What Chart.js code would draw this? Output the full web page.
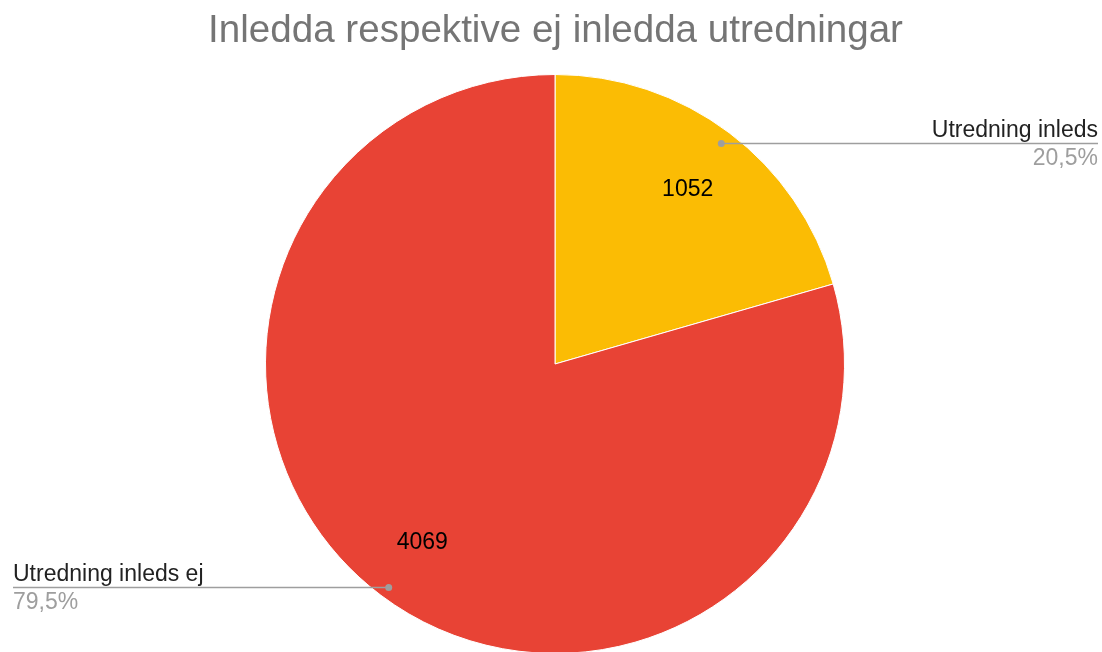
<!DOCTYPE html>
<html>
<head>
<meta charset="utf-8">
<script src="https://cdn.jsdelivr.net/npm/chart.js@4.4.1/dist/chart.umd.min.js"></script>
<style>
  html, body { margin: 0; padding: 0; background: #ffffff; overflow: hidden; }
  #wrap { width: 1102px; height: 700px; position: relative; }
</style>
</head>
<body>
<div id="wrap"><canvas id="c" width="1102" height="700"></canvas></div>
<script>
const titleText = "Inledda respektive ej inledda utredningar";
const categories = ["Utredning inleds", "Utredning inleds ej"];
const values = [1052, 4069];
const percentLabels = ["20,5%", "79,5%"];
const colors = ["#FBBC04", "#E84335"];

const FONT = "'Liberation Sans', Arial, sans-serif";

const labelPlugin = {
  id: 'labelPlugin',
  afterDraw(chart) {
    const ctx = chart.ctx;
    const meta = chart.getDatasetMeta(0);
    ctx.save();
    // Title
    ctx.fillStyle = '#757575';
    ctx.font = '38.6px ' + FONT;
    ctx.textAlign = 'center';
    ctx.textBaseline = 'alphabetic';
    ctx.fillText(titleText, 555.5, 42);

    meta.data.forEach((arc, i) => {
      const p = arc.getProps(['x', 'y', 'startAngle', 'endAngle', 'outerRadius'], true);
      const mid = (p.startAngle + p.endAngle) / 2;
      // value label
      const vr = p.outerRadius * 0.762;
      const vx = p.x + Math.cos(mid) * vr;
      const vy = p.y + Math.sin(mid) * vr + 2;
      ctx.fillStyle = '#000000';
      ctx.font = '23px ' + FONT;
      ctx.textAlign = 'center';
      ctx.textBaseline = 'middle';
      ctx.fillText(String(values[i]), vx, vy);

      // leader dot + line
      const dr = p.outerRadius * 0.955;
      const dx = p.x + Math.cos(mid) * dr;
      const dy = Math.round(p.y + Math.sin(mid) * dr + (Math.sin(mid) > 0 ? 2 : 0)) + 0.5;
      const right = Math.cos(mid) > 0;
      const endX = right ? 1098 : 13;
      ctx.strokeStyle = '#9e9e9e';
      ctx.lineWidth = 1.5;
      ctx.beginPath();
      ctx.moveTo(dx, dy);
      ctx.lineTo(endX, dy);
      ctx.stroke();
      ctx.fillStyle = '#9e9e9e';
      ctx.beginPath();
      ctx.arc(dx, dy, 3.5, 0, Math.PI * 2);
      ctx.fill();

      ctx.textAlign = right ? 'right' : 'left';
      ctx.textBaseline = 'alphabetic';
      ctx.font = '23px ' + FONT;
      ctx.fillStyle = '#222222';
      ctx.fillText(categories[i], endX, dy - 7);
      ctx.fillStyle = '#9e9e9e';
      ctx.fillText(percentLabels[i], endX, dy + 21);
    });
    ctx.restore();
  }
};

new Chart(document.getElementById('c'), {
  type: 'pie',
  data: {
    labels: categories,
    datasets: [{
      data: values,
      backgroundColor: colors,
      borderColor: '#ffffff',
      borderWidth: 1
    }]
  },
  options: {
    responsive: false,
    animation: false,
    layout: { padding: { top: 74, bottom: 46, left: 8, right: 0 } },
    plugins: {
      legend: { display: false },
      title: { display: false },
      tooltip: { enabled: false }
    }
  },
  plugins: [labelPlugin]
});
</script>
</body>
</html>
